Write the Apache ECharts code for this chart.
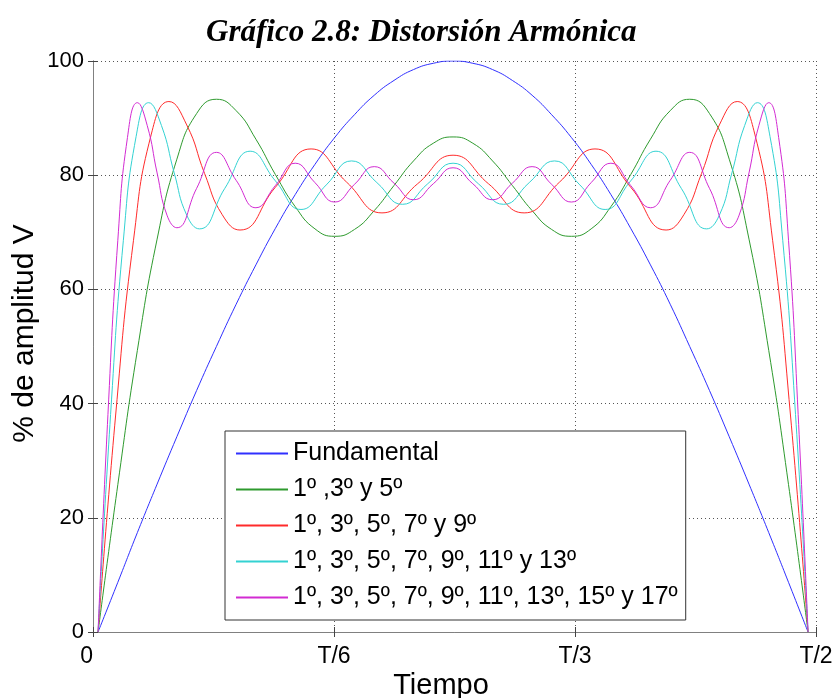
<!DOCTYPE html>
<html>
<head>
<meta charset="utf-8">
<script src="https://cdn.jsdelivr.net/npm/echarts@6/dist/echarts.min.js"></script>
<style>
  html, body { margin: 0; padding: 0; background: #fff; }
  #chart { width: 835px; height: 698px; }
</style>
</head>
<body>
<div id="chart"></div>
<script>
// etiquetas del eje X (unidades de T/6)
const ticksX = ['0', 'T/6', 'T/3', 'T/2'];
const nombres = [
  'Fundamental',
  '1º ,3º y 5º',
  '1º, 3º, 5º, 7º y 9º',
  '1º, 3º, 5º, 7º, 9º, 11º y 13º',
  '1º, 3º, 5º, 7º, 9º, 11º, 13º, 15º y 17º'
];
const colores = ['#3030ff', '#2e9a2e', '#ff2b2b', '#33d2d2', '#d22bd2'];

// tiempo en unidades de T/6
const tiempo5 = [0.021, 0.103, 0.184, 0.266, 0.348, 0.430, 0.512, 0.594, 0.676, 0.757, 0.839, 0.921, 1.003, 1.085, 1.167, 1.249, 1.330, 1.412, 1.494,
  1.576, 1.658, 1.740, 1.822, 1.903, 1.985, 2.067, 2.149, 2.231, 2.313, 2.395, 2.476, 2.558, 2.640, 2.722, 2.804, 2.886, 2.967];
const fundamental = [0, 8.7, 17.4, 25.9, 34.2, 42.3, 50.0, 57.4, 64.3, 70.7, 76.6, 81.9, 86.6, 90.6, 94.0, 96.6, 98.5, 99.6, 100,
  99.6, 98.5, 96.6, 94.0, 90.6, 86.6, 81.9, 76.6, 70.7, 64.3, 57.4, 50.0, 42.3, 34.2, 25.9, 17.4, 8.7, 0];
const armonicos5 = [0, 25.8, 49.3, 68.8, 82.8, 90.8, 93.3, 91.3, 86.3, 80.1, 74.5, 70.6, 69.3, 70.5, 73.8, 78.2, 82.5, 85.6, 86.7,
  85.6, 82.5, 78.2, 73.8, 70.5, 69.3, 70.6, 74.5, 80.1, 86.3, 91.3, 93.3, 90.8, 82.8, 68.8, 49.3, 25.8, 0];

const tiempo9 = [0.021, 0.094, 0.168, 0.242, 0.315, 0.389, 0.463, 0.536, 0.610, 0.757, 0.905, 1.052, 1.199, 1.347, 1.494,
  1.641, 1.789, 1.936, 2.083, 2.231, 2.378, 2.452, 2.525, 2.599, 2.673, 2.746, 2.820, 2.894, 2.967];
const armonicos9 = [0, 38.0, 68.6, 87.2, 92.9, 88.8, 80.3, 73.1, 70.4, 77.9, 84.6, 78.8, 73.4, 78.5, 83.5,
  78.5, 73.4, 78.8, 84.6, 77.9, 70.4, 73.1, 80.3, 88.8, 92.9, 87.2, 68.6, 38.0, 0];

const tiempo13 = [0.021, 0.073, 0.126, 0.179, 0.231, 0.284, 0.337, 0.389, 0.442, 0.547, 0.652, 0.757, 0.863, 0.968, 1.073, 1.178, 1.284, 1.389, 1.494,
  1.599, 1.704, 1.810, 1.915, 2.020, 2.125, 2.231, 2.336, 2.441, 2.546, 2.599, 2.651, 2.704, 2.757, 2.809, 2.862, 2.915, 2.967];
const armonicos13 = [0, 38.1, 68.6, 86.8, 92.7, 88.7, 80.4, 73.0, 70.6, 77.7, 84.2, 79.0, 74.0, 78.3, 82.5, 78.7, 74.9, 78.5, 82.1,
  78.5, 74.9, 78.7, 82.5, 78.3, 74.0, 79.0, 84.2, 77.7, 70.6, 73.0, 80.4, 88.7, 92.7, 86.8, 68.6, 38.1, 0];

const tiempo17 = [0.021, 0.062, 0.103, 0.143, 0.184, 0.225, 0.266, 0.307, 0.348, 0.430, 0.512, 0.594, 0.676, 0.757, 0.839, 0.921, 1.003, 1.085, 1.167, 1.249, 1.330, 1.412, 1.494,
  1.576, 1.658, 1.740, 1.822, 1.903, 1.985, 2.067, 2.149, 2.231, 2.313, 2.395, 2.476, 2.558, 2.640, 2.681, 2.722, 2.763, 2.804, 2.845, 2.886, 2.926, 2.967];
const armonicos17 = [0, 38.1, 68.6, 86.6, 92.7, 88.7, 80.4, 73.0, 70.8, 77.7, 84.0, 79.1, 74.3, 78.2, 82.1, 78.7, 75.3, 78.4, 81.5, 78.6, 75.7, 78.5, 81.3,
  78.5, 75.7, 78.6, 81.5, 78.4, 75.3, 78.7, 82.1, 78.2, 74.3, 79.1, 84.0, 77.7, 70.8, 73.0, 80.4, 88.7, 92.7, 86.6, 68.6, 38.1, 0];

const curvas = [
  [tiempo5, fundamental],
  [tiempo5, armonicos5],
  [tiempo9, armonicos9],
  [tiempo13, armonicos13],
  [tiempo17, armonicos17]
];

var chart = echarts.init(document.getElementById('chart'));
var fuente = 'Liberation Sans';

var option = {
  animation: false,
  backgroundColor: '#fff',
  title: {
    text: 'Gráfico 2.8: Distorsión Armónica',
    left: 201,
    top: 12,
    textStyle: {
      fontFamily: 'Liberation Serif',
      fontStyle: 'italic',
      fontWeight: 'bold',
      fontSize: 31,
      color: '#000'
    }
  },
  grid: { left: 93, right: 19, top: 61, bottom: 66, containLabel: false, outerBoundsMode: 'none' },
  legend: {
    orient: 'vertical',
    left: 225,
    top: 431,
    padding: [10, 8, 10, 10],
    itemWidth: 52,
    itemHeight: 14,
    itemGap: 11,
    itemStyle: { opacity: 0 },
    backgroundColor: '#fff',
    borderColor: '#333',
    borderWidth: 1,
    borderRadius: 0,
    textStyle: { fontFamily: fuente, fontSize: 25, color: '#000', lineHeight: 25 },
    data: nombres
  },
  xAxis: [
    {
      type: 'value',
      min: 0,
      max: 3,
      interval: 1,
      name: 'Tiempo',
      nameLocation: 'middle',
      nameGap: 39,
      nameMoveOverlap: false,
      nameTextStyle: { fontFamily: fuente, fontSize: 29, color: '#000', padding: [0, 27, 0, 0] },
      axisLine: { show: true, lineStyle: { color: '#808080', width: 1 } },
      axisTick: { show: true, inside: true, length: 5, lineStyle: { color: '#444' } },
      axisLabel: {
        margin: 13,
        fontFamily: fuente,
        fontSize: 23,
        color: '#000',
        alignMinLabel: 'right',
        formatter: function (v) { return ticksX[Math.round(v)]; }
      },
      splitLine: { show: true, lineStyle: { color: '#555', type: [1, 3], width: 1 } }
    },
    {
      type: 'value',
      position: 'top',
      min: 0,
      max: 3,
      interval: 1,
      axisLine: { show: true, lineStyle: { color: '#808080', width: 1 } },
      axisTick: { show: true, inside: true, length: 5, lineStyle: { color: '#444' } },
      axisLabel: { show: false },
      splitLine: { show: false }
    }
  ],
  yAxis: [
    {
      type: 'value',
      min: 0,
      max: 100,
      interval: 20,
      name: '% de amplitud V',
      nameLocation: 'middle',
      nameGap: 53,
      nameMoveOverlap: false,
      nameTextStyle: { fontFamily: fuente, fontSize: 30, color: '#000', padding: [0, 0, 0, 26] },
      axisLine: { show: true, lineStyle: { color: '#808080', width: 1 } },
      axisTick: { show: true, inside: true, length: 5, lineStyle: { color: '#444' } },
      axisLabel: { margin: 9, fontFamily: fuente, fontSize: 22, color: '#000' },
      splitLine: { show: true, lineStyle: { color: '#555', type: [1, 3], width: 1 } }
    },
    {
      type: 'value',
      position: 'right',
      min: 0,
      max: 100,
      interval: 20,
      axisLine: { show: true, lineStyle: { color: '#808080', width: 1 } },
      axisTick: { show: true, inside: true, length: 5, lineStyle: { color: '#444' } },
      axisLabel: { show: false },
      splitLine: { show: false }
    }
  ],
  series: curvas.map(function (c, i) {
    return {
      name: nombres[i],
      type: 'line',
      xAxisIndex: 0,
      yAxisIndex: 0,
      smooth: 0.5,
      symbol: 'none',
      lineStyle: { color: colores[i], width: 1 },
      itemStyle: { color: colores[i] },
      data: c[0].map(function (t, k) { return [t, c[1][k]]; })
    };
  })
};
chart.setOption(option);
</script>
</body>
</html>
